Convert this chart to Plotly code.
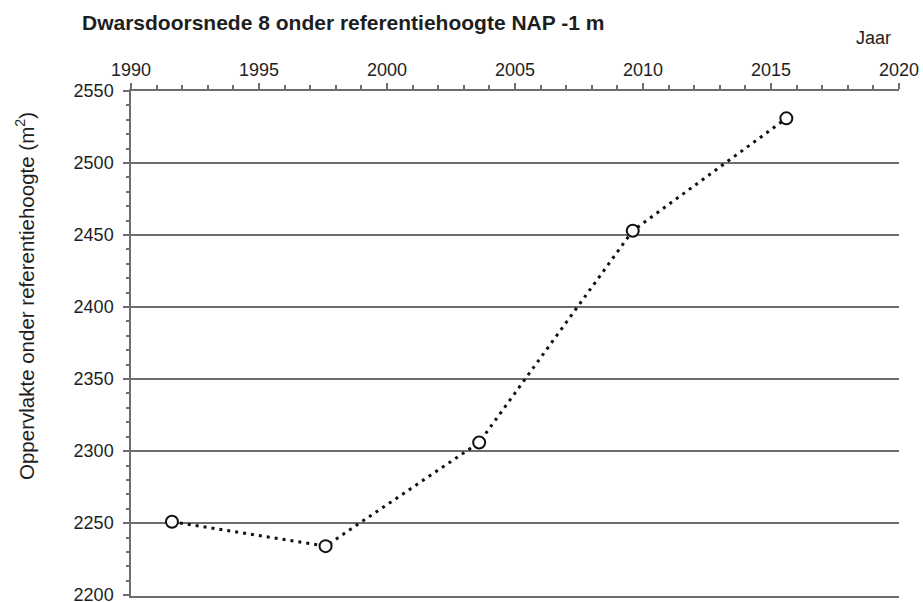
import plotly.graph_objects as go

# Measurement years and cross-sectional area below reference level (m2)
years = [1991.6, 1997.6, 2003.6, 2009.6, 2015.6]
area = [2251, 2234, 2306, 2453, 2531]

title_text = "Dwarsdoorsnede 8 onder referentiehoogte NAP -1 m"
x_title = "Jaar"
y_title = "Oppervlakte onder referentiehoogte (m<sup>2</sup>)"

axis_grey = "#6e6e6e"
text_col = "#1e1e1e"
font_family = "Liberation Sans, Arial, sans-serif"

fig = go.Figure(
    go.Scatter(
        x=years,
        y=area,
        mode="lines+markers",
        line=dict(color="#111111", width=3, dash="3px,5px"),
        marker=dict(symbol="circle", size=12, color="white",
                    line=dict(color="#111111", width=2)),
        showlegend=False,
    )
)

fig.update_layout(
    width=923,
    height=602,
    margin=dict(l=131, r=24, t=91, b=6, autoexpand=False),
    paper_bgcolor="white",
    plot_bgcolor="white",
    font=dict(family=font_family, color=text_col, size=18),
    title=dict(
        text="<b>" + title_text + "</b>",
        xref="container", yref="container",
        x=82 / 923, xanchor="left",
        y=1 - 23 / 602, yanchor="middle",
        font=dict(size=21, color=text_col, family=font_family),
    ),
    annotations=[
        dict(text=x_title, xref="paper", yref="paper",
             x=(873 - 131) / 768, y=1 + (91 - 38) / 505,
             xanchor="center", yanchor="middle", showarrow=False,
             font=dict(size=18, color=text_col)),
        dict(text=y_title, xref="paper", yref="paper",
             x=-(131 - 25) / 768, y=(596 - 296) / 505,
             xanchor="center", yanchor="middle", textangle=-90,
             showarrow=False, font=dict(size=20.5, color=text_col)),
    ],
)

fig.update_xaxes(
    side="top",
    range=[1990, 2020],
    tickmode="linear", tick0=1990, dtick=5,
    ticks="outside", ticklen=6, tickwidth=1.5, tickcolor=axis_grey,
    minor=dict(dtick=1, ticks="outside", ticklen=4, tickwidth=1.5,
               tickcolor=axis_grey, showgrid=False),
    showline=True, linecolor=axis_grey, linewidth=1.5, mirror=True,
    showgrid=False, zeroline=False,
    tickfont=dict(size=18, color=text_col),
    ticklabeloverflow="allow",
    automargin=False,
)

fig.update_yaxes(
    range=[2199.4, 2550],
    tickmode="linear", tick0=2200, dtick=50,
    ticks="outside", ticklen=6, tickwidth=1.5, tickcolor=axis_grey,
    minor=dict(dtick=10, ticks="outside", ticklen=3, tickwidth=1.5,
               tickcolor=axis_grey, showgrid=False),
    showline=True, linecolor=axis_grey, linewidth=1.5,
    showgrid=True, gridcolor=axis_grey, gridwidth=1.5,
    zeroline=False,
    tickfont=dict(size=18, color=text_col),
    ticklabelstandoff=6,
    ticklabeloverflow="allow",
    automargin=False,
)

fig.write_html("out.html")
